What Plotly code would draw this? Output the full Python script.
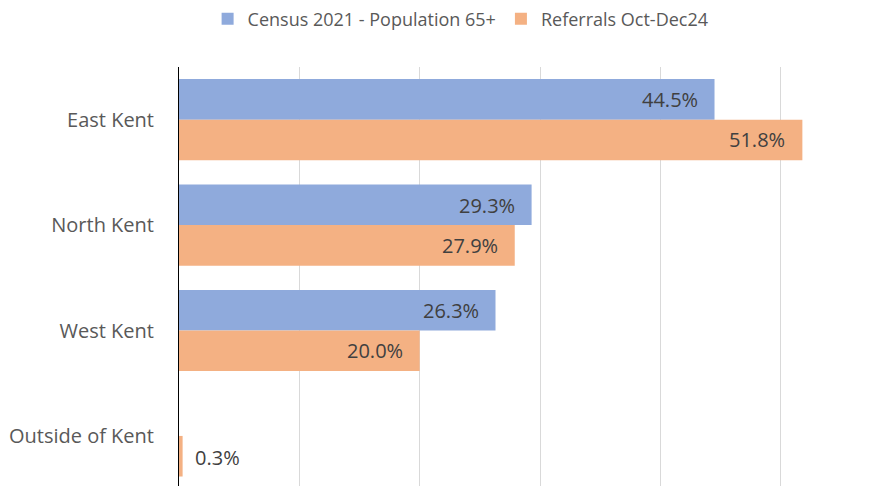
import plotly.graph_objects as go

categories = ["East Kent", "North Kent", "West Kent", "Outside of Kent"]
census_65 = [44.5, 29.3, 26.3, None]
referrals = [51.8, 27.9, 20.0, 0.3]
series_names = ["Census 2021 - Population 65+", "Referrals Oct-Dec24"]
colors = ["#8FAADC", "#F4B183"]

FONT = "'Open Sans', sans-serif"

fig = go.Figure()
for name, vals, col in zip(series_names, [census_65, referrals], colors):
    fig.add_trace(go.Bar(
        y=categories, x=vals, name=name, orientation="h",
        marker=dict(color=col, line=dict(width=0)),
        hoverinfo="skip",
    ))

# data labels
offsets = [-0.19, 0.19]
for s, vals in enumerate([census_65, referrals]):
    for i, v in enumerate(vals):
        if v is None:
            continue
        inside = v > 5
        fig.add_annotation(
            x=v, y=i + offsets[s], xref="x", yref="y",
            text=f"{v:.1f}%", showarrow=False,
            xanchor="right" if inside else "left",
            xshift=-15 if inside else 10,
            yshift=-2 if s == 1 and not inside else 0,
            font=dict(family=FONT, size=20, color="#404040"),
        )

# page body has an 8px default margin, so the figure is sized to fit 892x486
fig.update_layout(
    width=884, height=478,
    margin=dict(l=171, r=9, t=59, b=0, autoexpand=False),
    paper_bgcolor="white", plot_bgcolor="white",
    barmode="group", bargap=0.23, bargroupgap=0,
    font=dict(family=FONT, size=20, color="#595959"),
    legend=dict(
        orientation="h", xref="container", yref="container",
        x=0.512, xanchor="center", y=0.977, yanchor="middle",
        font=dict(family=FONT, size=18, color="#595959"),
        itemwidth=30, traceorder="normal",
    ),
    showlegend=True,
)
fig.update_xaxes(
    range=[0, 58.5], showgrid=True, gridcolor="#D9D9D9", gridwidth=1,
    dtick=10, showticklabels=False, zeroline=False, showline=False,
)
fig.update_yaxes(
    range=[3.475, -0.5], showline=True, linecolor="#000000", linewidth=1,
    ticks="", ticklabelstandoff=20, showgrid=False,
    tickfont=dict(family=FONT, size=20, color="#595959"),
)

fig.write_html("out.html")
